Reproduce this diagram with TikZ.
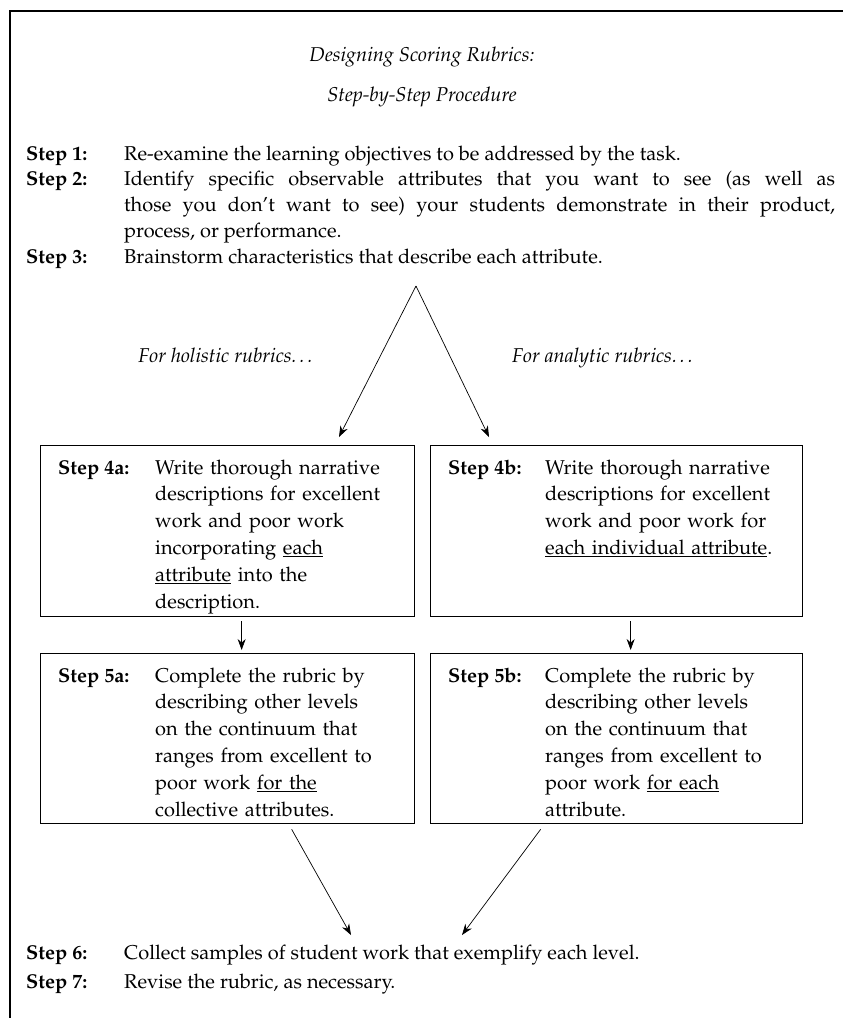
\documentclass[tikz,border=0pt]{standalone}
\usepackage[T1]{fontenc}
\usepackage{palatino}
\usetikzlibrary{arrows.meta, positioning}

\begin{document}
\begin{tikzpicture}[x=1pt, y=-1pt]

        % Setup the styles for the texts, boxes and arrows
        \tikzset{step label/.style={anchor=base west, inner sep=0pt,
                                    font=\fontsize{20}{26}\selectfont\bfseries},
                 step text/.style={anchor=base west, inner sep=0pt, align=left,
                                   font=\fontsize{20}{26}\selectfont},
                 box text/.style={step text, text width=255pt,
                                  font=\fontsize{20}{26.8}\selectfont},
                 head text/.style={anchor=base, inner sep=0pt,
                                   font=\fontsize{20}{24}\selectfont\itshape},
                 box style/.style={draw, anchor=north west, inner sep=0pt,
                                   line width=1.3pt,
                                   minimum width=374pt,
                                   minimum height=171pt},
                 arrow style/.style={-{Stealth[length=11pt, width=8pt]},
                                     line width=0.7pt}}

        \useasboundingbox (0,0) rectangle (843,1018);
        \draw[line width=1.3pt] (10,1030) -- (10,11) -- (855,11);

        % Draw the heading
        \node[head text] at (422,61)  (title)  {Designing Scoring Rubrics:};
        \node[head text] at (422,101) (subtitle) {Step-by-Step Procedure};

        % Draw steps 1 to 3
        \node[step label] at (26,160) (s1) {Step 1:};
        \node[step text]  at (124,160) (t1) {Re-examine the learning objectives to be addressed by the task.};
        \node[step label] at (26,185) (s2) {Step 2:};
        \node[step text, text width=711pt, align=justify] at (124,185) (t2)
            {\makebox[711pt][s]{Identify specific observable attributes that you want to see (as well as}\\
             \makebox[711pt][s]{those you don't want to see) your students demonstrate in their product,}\\
             process, or performance.};
        \node[step label] at (26,263) (s3) {Step 3:};
        \node[step text]  at (124,263) (t3) {Brainstorm characteristics that describe each attribute.};

        \node[head text] at (227,362) (holistic) {For holistic rubrics\ldots};
        \node[head text] at (604,362) (analytic) {For analytic rubrics\ldots};

        % Draw the boxes
        \node[box style] at (40,445)  (box4a) {};
        \node[box style, minimum width=372pt] at (430,445) (box4b) {};
        \node[box style, minimum height=170pt] at (40,653)  (box5a) {};
        \node[box style, minimum width=372pt, minimum height=170pt] at (430,653) (box5b) {};

        \node[step label] at (58,474)  (s4a) {Step 4a:};
        \node[box text]   at (155,474) (t4a) {Write thorough narrative\\descriptions for excellent\\work and poor work\\incorporating \underline{each}\\\underline{attribute} into the\\description.};
        \node[step label] at (448,474) (s4b) {Step 4b:};
        \node[box text]   at (545,474) (t4b) {Write thorough narrative\\descriptions for excellent\\work and poor work for\\\underline{each individual attribute}.};

        \node[step label] at (58,682)  (s5a) {Step 5a:};
        \node[box text]   at (155,682) (t5a) {Complete the rubric by\\describing other levels\\on the continuum that\\ranges from excellent to\\poor work \underline{for the}\\collective attributes.};
        \node[step label] at (448,682) (s5b) {Step 5b:};
        \node[box text]   at (545,682) (t5b) {Complete the rubric by\\describing other levels\\on the continuum that\\ranges from excellent to\\poor work \underline{for each}\\attribute.};

        % Draw steps 6 and 7
        \node[step label] at (26,959) (s6) {Step 6:};
        \node[step text]  at (124,959) (t6) {Collect samples of student work that exemplify each level.};
        \node[step label] at (26,988) (s7) {Step 7:};
        \node[step text]  at (124,988) (t7) {Revise the rubric, as necessary.};

        % Connect the steps with arrows
        \coordinate (split) at (416,286);
        \coordinate (into4a) at (339,437);
        \coordinate (into4b) at (489,437);
        \coordinate (merge5a) at (351,935);
        \coordinate (merge5b) at (462,935);

        \path[arrow style]
            (split) edge (into4a)
            (split) edge (into4b)
            ([xshift=14pt, yshift=-4pt]box4a.south) edge ([xshift=14pt, yshift=3pt]box5a.north)
            ([xshift=14pt, yshift=-4pt]box4b.south) edge ([xshift=14pt, yshift=3pt]box5b.north)
            ([xshift=64pt, yshift=-5pt]box5a.south) edge (merge5a)
            ([xshift=-76pt, yshift=-5pt]box5b.south) edge (merge5b);
\end{tikzpicture}
\end{document}
